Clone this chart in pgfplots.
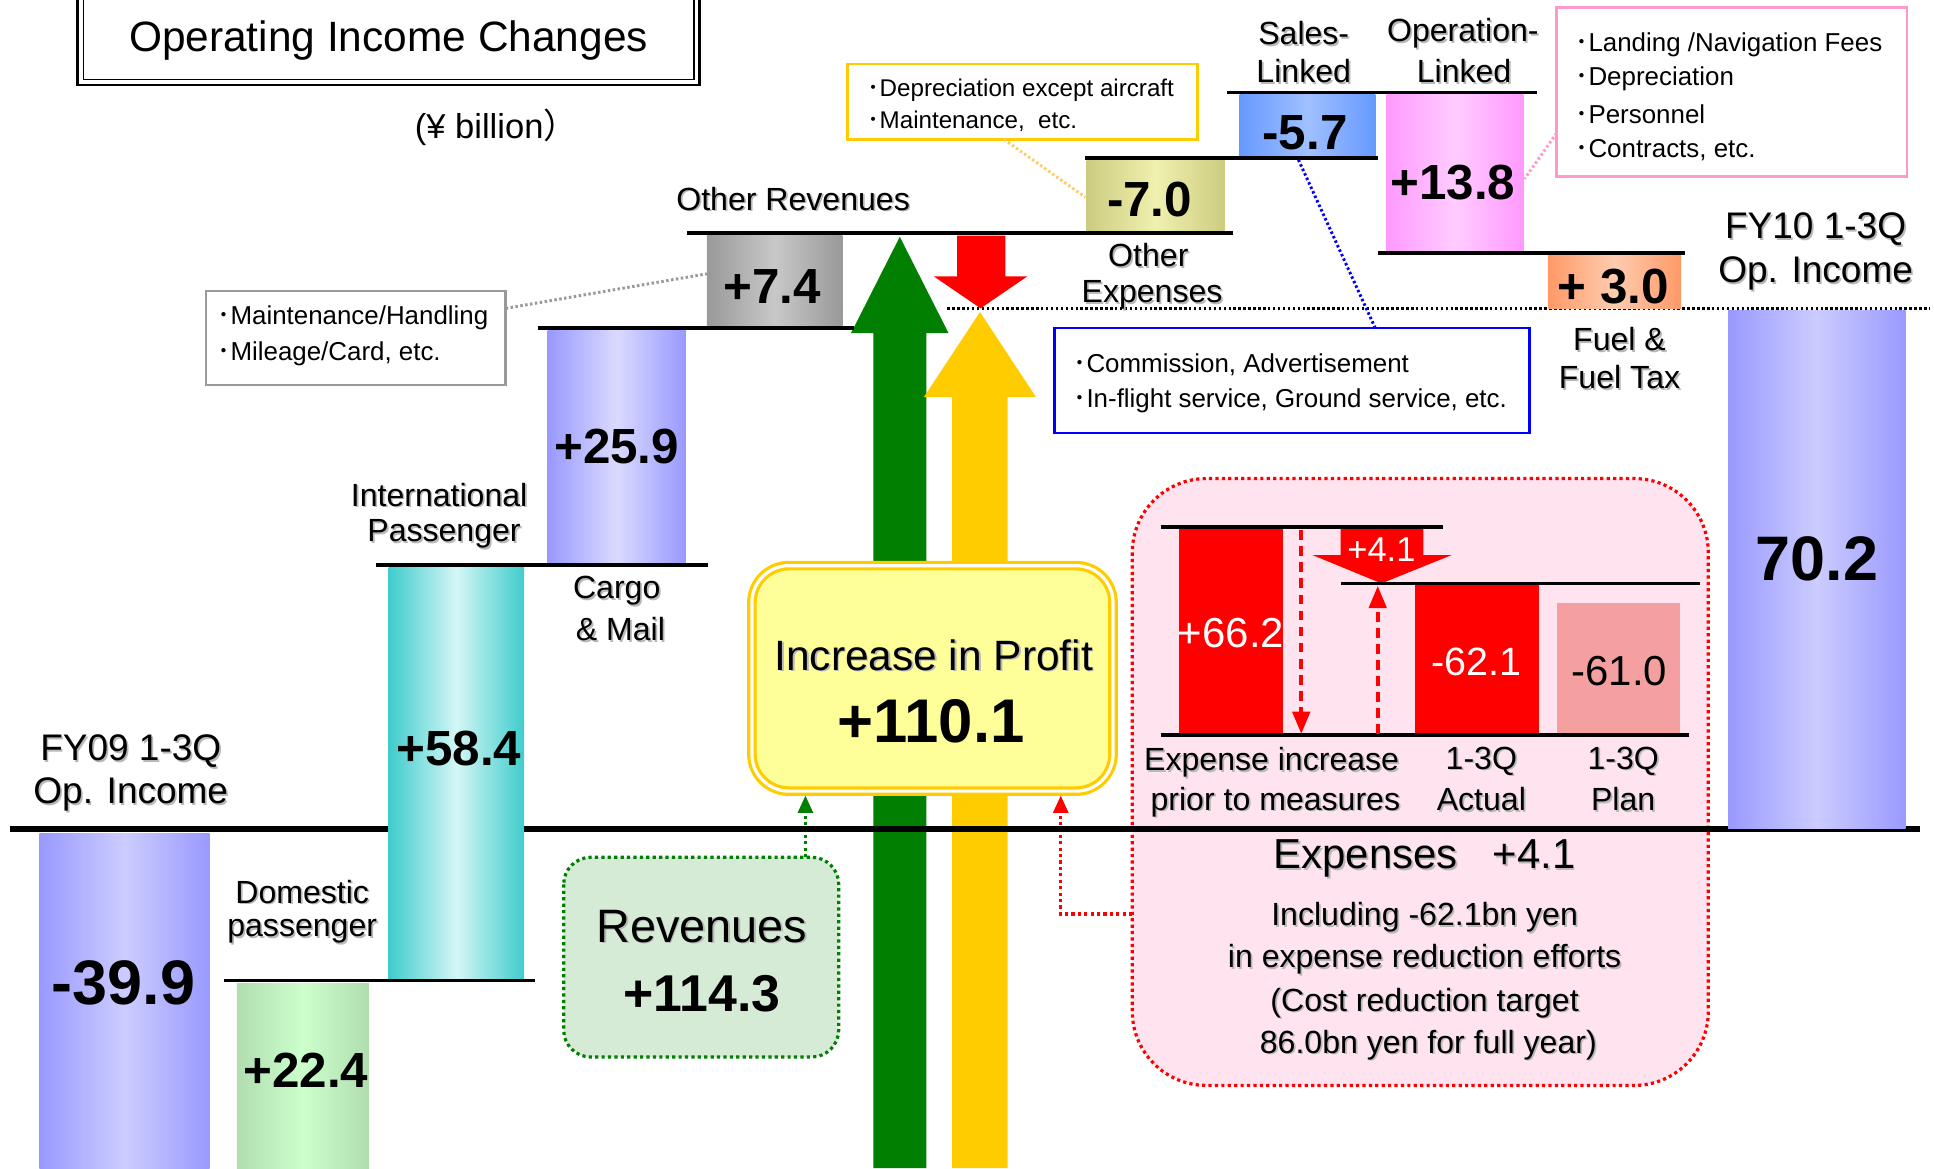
\documentclass[border=0pt]{standalone}
\usepackage{pgfplots}
\pgfplotsset{compat=1.18}
\usetikzlibrary{arrows.meta}
\usepackage{fontspec}
\setmainfont{Liberation Sans}
\newfontfamily\cjk{Noto Sans CJK JP}
\newcommand\fs[1]{\fontsize{#1}{#1}\selectfont}
\newcommand\dotc{{\cjk ･}}

\definecolor{pdark}{HTML}{9999FF}\definecolor{plight}{HTML}{CCCCFF}
\definecolor{gdark}{HTML}{B0DDB0}\definecolor{glight}{HTML}{CCFFCC}
\definecolor{tdark}{HTML}{40CCCC}\definecolor{tlight}{HTML}{D4F6F6}
\definecolor{cdark}{HTML}{9999FF}\definecolor{clight}{HTML}{DADAFF}
\definecolor{grdark}{HTML}{999999}\definecolor{grlight}{HTML}{C8C8C8}
\definecolor{odark}{HTML}{CCCC80}\definecolor{olight}{HTML}{F0F0B0}
\definecolor{bdark}{HTML}{6699FF}\definecolor{blight}{HTML}{A0C0FF}
\definecolor{mdark}{HTML}{FF99FF}\definecolor{mlight}{HTML}{FFCCFF}
\definecolor{fdark}{HTML}{FF9966}\definecolor{flight}{HTML}{FFCCB0}
\definecolor{arrgreen}{HTML}{007F00}
\definecolor{gold}{HTML}{FFCC00}
\definecolor{boxyellow}{HTML}{FFFF99}
\definecolor{revfill}{HTML}{D6EBD6}
\definecolor{pinkfill}{HTML}{FFE4EF}
\definecolor{planred}{HTML}{F4A0A0}
\definecolor{callpink}{HTML}{FF99CC}
\definecolor{callorange}{HTML}{FFCC66}

% shadowed label / plain text / callout text
\newcommand\lbl[4][]{%
  \node[inner sep=0,align=center,#1,text=black!28,xshift=0.7pt,yshift=-0.7pt] at (axis cs:#2,#3) {#4};
  \node[inner sep=0,align=center,#1] at (axis cs:#2,#3) {#4};}
\newcommand\txt[4][]{\node[inner sep=0,align=center,#1] at (axis cs:#2,#3) {#4};}
\newcommand\ctxt[4][]{\node[inner sep=0,anchor=west,font=\fs{10.5},#1] at (axis cs:#2,#3) {#4};}
% floating bar: x1 x2 ytop ybottom dark light
\newcommand\wbar[6]{\addplot[draw=none,left color=#5,right color=#5,middle color=#6] coordinates {(#1,#3) (#2,#3) (#2,#4) (#1,#4)} -- cycle;}
\newcommand\hl[3]{\addplot[black,line width=1.5pt] coordinates {(#1,#3) (#2,#3)};}

\begin{document}
\begin{tikzpicture}
\begin{axis}[width=784pt,height=473.5pt,scale only axis,
  xmin=0,xmax=1568,ymin=0,ymax=947,y dir=reverse,hide axis,clip=false]
\coordinate (BL) at (axis cs:0,947);
\coordinate (TR) at (axis cs:1568,0);

% title box
\draw[line width=1.1pt] (axis cs:63,-30) rectangle (axis cs:567,69);
\draw[line width=0.6pt] (axis cs:67.5,-30) rectangle (axis cs:562.5,64.5);
\txt[font=\fs{17.2}]{315}{33}{Operating Income Changes}
\node[inner sep=0,anchor=west,font=\fs{14}] at (axis cs:336,103) {(¥ billion{\cjk ）}};

% pink expense box
\draw[rounded corners=30pt,fill=pinkfill,draw=red,line width=1.3pt,dash pattern=on 1.3pt off 1.3pt] (axis cs:918,388) rectangle (axis cs:1385,880);

% big arrows
\addplot[draw=none,fill=arrgreen] coordinates {(708,947) (708,270) (690,270) (729.5,192) (769,270) (751,270) (751,947)} -- cycle;
\addplot[draw=none,fill=gold] coordinates {(772,947) (772,322) (749,322) (794.5,253) (840,322) (817,322) (817,947)} -- cycle;
\addplot[draw=none,fill=red] coordinates {(776,191) (776,224) (757,224) (795,250) (833,224) (815,224) (815,191)} -- cycle;

% dotted reference line
\addplot[black,line width=1pt,dash pattern=on 1pt off 1pt] coordinates {(768,250) (1565,250)};

% increase in profit box
\draw[rounded corners=15pt,fill=boxyellow,draw=gold,double=white,double distance=1.3pt,line width=1.3pt] (axis cs:609.6,458.6) rectangle (axis cs:902.4,641.4);
\lbl[font=\fs{17.2}]{757}{531}{Increase in Profit}
\txt[font=\fs{25}\bfseries]{755}{585}{+110.1}

% revenues box
\draw[rounded corners=11pt,fill=revfill,draw=arrgreen,line width=1.3pt,dash pattern=on 1.3pt off 1.3pt] (axis cs:457,695) rectangle (axis cs:680,857);
\lbl[font=\fs{19}]{569}{751}{Revenues}
\txt[font=\fs{21}\bfseries]{569}{806}{+114.3}
\draw[arrgreen,line width=1.3pt,dash pattern=on 1.3pt off 1.3pt,-{Triangle[width=6pt,length=7pt]}] (axis cs:653,695) -- (axis cs:653,645);
\draw[red,line width=1.3pt,dash pattern=on 1.3pt off 1.3pt,-{Triangle[width=6pt,length=7pt]}] (axis cs:918,741) -- (axis cs:860,741) -- (axis cs:860,645);

% baseline
\addplot[black,line width=2.5pt] coordinates {(8,672) (1557,672)};

% waterfall bars
\wbar{32}{170}{676}{947}{pdark}{plight}
\wbar{192}{299}{797}{947}{gdark}{glight}
\wbar{315}{425}{460}{795}{tdark}{tlight}
\wbar{444}{556}{268}{458}{cdark}{clight}
\wbar{573}{683}{191}{266}{grdark}{grlight}
\wbar{881}{993}{130}{189}{odark}{olight}
\wbar{1005}{1115}{77}{128}{bdark}{blight}
\wbar{1124}{1235}{77}{205}{mdark}{mlight}
\wbar{1255}{1363}{207}{250}{fdark}{flight}
\wbar{1401}{1545}{252}{672}{pdark}{plight}

% connector lines
\hl{182}{434}{795}
\hl{305}{574}{458}
\hl{436}{692}{266}
\hl{557}{1000}{189}
\hl{880}{1117}{128}
\hl{995}{1246}{75}
\hl{1117}{1366}{205}

% bar values
\txt[font=\fs{25.5}\bfseries]{100}{797}{-39.9}
\txt[font=\fs{20}\bfseries]{248}{868}{+22.4}
\txt[font=\fs{20}\bfseries]{372}{607}{+58.4}
\txt[font=\fs{20}\bfseries]{500}{362}{+25.9}
\txt[font=\fs{20}\bfseries]{626}{232}{+7.4}
\txt[font=\fs{20}\bfseries]{932}{162}{-7.0}
\txt[font=\fs{20}\bfseries]{1058}{108}{-5.7}
\txt[font=\fs{20}\bfseries]{1178}{148}{+13.8}
\txt[font=\fs{20}\bfseries]{1308}{232}{+ 3.0}
\txt[font=\fs{25.5}\bfseries]{1473}{453}{70.2}

% category labels
\lbl[font=\fs{13}]{643}{161}{Other Revenues}
\lbl[font=\fs{15}]{106}{609}{FY09 1-3Q}
\lbl[font=\fs{15}]{106}{644}{Op. Income}
\lbl[font=\fs{13}]{245}{723}{Domestic}
\lbl[font=\fs{13}]{245}{755}{passenger}
\lbl[font=\fs{13}]{356}{401}{International}
\lbl[font=\fs{13}]{360}{433}{Passenger}
\lbl[font=\fs{13}]{500}{479}{Cargo}
\lbl[font=\fs{13}]{503}{510}{\& Mail}
\lbl[font=\fs{13}]{931}{207}{Other}
\lbl[font=\fs{13}]{934}{239}{Expenses}
\lbl[font=\fs{13}]{1057}{27}{Sales-}
\lbl[font=\fs{13}]{1057}{58}{Linked}
\lbl[font=\fs{13}]{1186}{27}{Operation-}
\lbl[font=\fs{13}]{1187}{58}{Linked}
\lbl[font=\fs{13}]{1313}{275}{Fuel \&}
\lbl[font=\fs{13}]{1313}{306}{Fuel Tax}
\lbl[font=\fs{15}]{1472}{186}{FY10 1-3Q}
\lbl[font=\fs{15}]{1472}{222}{Op. Income}

% callouts
\draw[line width=1pt,draw=grdark,fill=white] (axis cs:167,236) rectangle (axis cs:410,312);
\draw[grdark,line width=1.2pt,dash pattern=on 1pt off 1pt] (axis cs:410,250) -- (axis cs:573,222);
\ctxt{176}{258}{\dotc Maintenance/Handling}
\ctxt{176}{287}{\dotc Mileage/Card, etc.}

\draw[line width=1pt,draw=gold,fill=white] (axis cs:687,52) rectangle (axis cs:971,113);
\draw[callorange,line width=1.2pt,dash pattern=on 1pt off 1pt] (axis cs:814,113) -- (axis cs:880,160);
\ctxt[font=\fs{9.8}]{703}{73}{\dotc Depreciation except aircraft}
\ctxt[font=\fs{9.8}]{703}{98}{\dotc Maintenance,\ \ etc.}

\draw[line width=1pt,draw=blue,fill=white] (axis cs:855,266) rectangle (axis cs:1240,351);
\draw[blue,line width=1.2pt,dash pattern=on 1pt off 1pt] (axis cs:1115,266) -- (axis cs:1052,128);
\ctxt{870}{296}{\dotc Commission, Advertisement}
\ctxt{870}{325}{\dotc In-flight service, Ground service, etc.}

\draw[line width=1pt,draw=callpink,fill=white] (axis cs:1262,6) rectangle (axis cs:1546,143);
\draw[callpink,line width=1.2pt,dash pattern=on 1pt off 1pt] (axis cs:1262,108) -- (axis cs:1236,145);
\ctxt{1277}{36}{\dotc Landing /Navigation Fees}
\ctxt{1277}{64}{\dotc Depreciation}
\ctxt{1277}{93}{\dotc Personnel}
\ctxt{1277}{122}{\dotc Contracts, etc.}

% expense detail inside pink box
\addplot[draw=none,fill=red] coordinates {(956,428) (1040,428) (1040,596) (956,596)} -- cycle;
\addplot[draw=none,fill=red] coordinates {(1147,474) (1248,474) (1248,596) (1147,596)} -- cycle;
\addplot[draw=none,fill=planred] coordinates {(1262,489) (1362,489) (1362,596) (1262,596)} -- cycle;
\addplot[draw=none,fill=red] coordinates {(1087,428) (1154,428) (1154,450) (1177,450) (1120,473) (1064,450) (1087,450)} -- cycle;
\hl{941}{1170}{427}
\hl{1087}{1378}{473}
\hl{941}{1369}{596}
\draw[red,line width=1.6pt,dash pattern=on 4pt off 2.5pt,-{Triangle[width=7pt,length=9pt]}] (axis cs:1055,430) -- (axis cs:1055,595);
\draw[red,line width=1.6pt,dash pattern=on 4pt off 2.5pt,-{Triangle[width=7pt,length=9pt]}] (axis cs:1117,595) -- (axis cs:1117,475);
\txt[font=\fs{17},text=white]{998}{513}{+66.2}
\txt[font=\fs{14},text=white]{1120}{446}{+4.1}
\txt[font=\fs{16},text=white]{1197}{537}{-62.1}
\txt[font=\fs{17}]{1313}{544}{-61.0}
\lbl[font=\fs{13}]{1031}{618}{Expense increase}
\lbl[font=\fs{13}]{1034}{650}{prior to measures}
\lbl[font=\fs{13}]{1201}{617}{1-3Q}
\lbl[font=\fs{13}]{1201}{648}{Actual}
\lbl[font=\fs{13}]{1316}{617}{1-3Q}
\lbl[font=\fs{13}]{1316}{648}{Plan}
\lbl[font=\fs{17}]{1155}{696}{Expenses\ \ \ +4.1}
\lbl[font=\fs{13}]{1155}{744}{Including -62.1bn yen}
\lbl[font=\fs{13}]{1155}{778}{in expense reduction efforts}
\lbl[font=\fs{13}]{1155}{813}{(Cost reduction target}
\lbl[font=\fs{13}]{1158}{847}{86.0bn yen for full year)}
\end{axis}
\pgfresetboundingbox
\path (BL) rectangle (TR);
\end{tikzpicture}
\end{document}
